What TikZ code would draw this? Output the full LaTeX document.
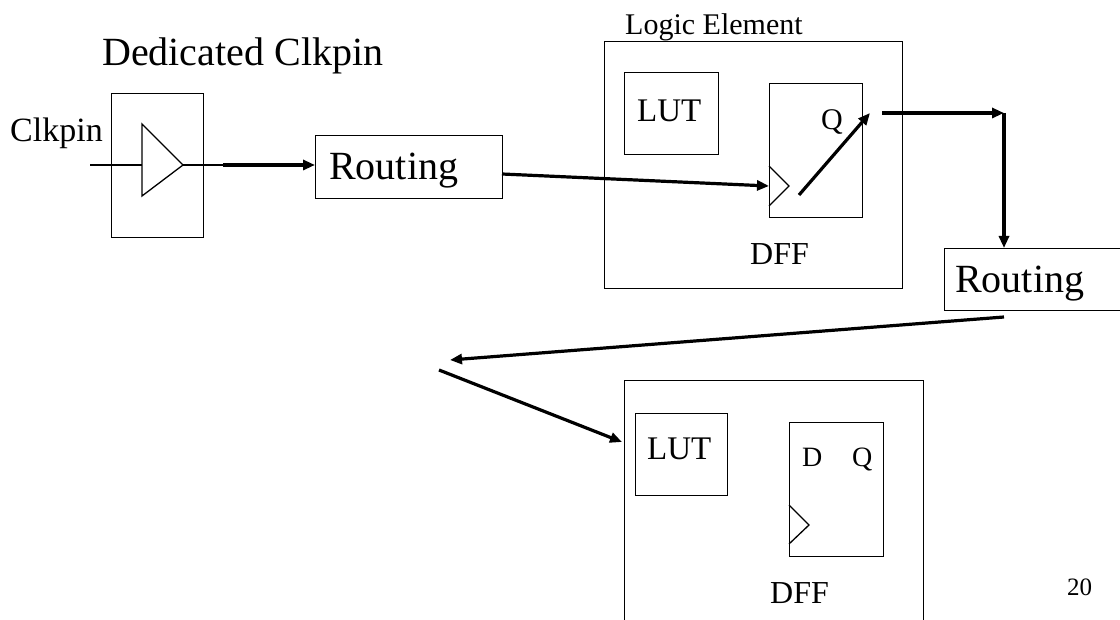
\documentclass[tikz,border=0pt]{standalone}
\usepackage{fontspec}
\setmainfont{Liberation Serif}
\usetikzlibrary{arrows.meta}
\begin{document}
\begin{tikzpicture}[x=1pt,y=-1pt,
  box/.style={draw, line width=1.3pt, rectangle, inner sep=0pt, anchor=north west},
  txt/.style={inner sep=0pt, anchor=base west},
  thin/.style={line width=1.3pt},
  bus/.style={line width=3.2pt, -{Triangle[length=12pt,width=10pt]}},
  fs/.style={font=\fontsize{#1}{#1}\selectfont}]
\useasboundingbox (0,0) rectangle (1120,620);
\clip (0,0) rectangle (1120,620);

% dedicated clock pin with its input buffer
\node[txt, fs=40] (title) at (102,66) {Dedicated Clkpin};
\node[txt, fs=34] (pinlbl) at (10,142) {Clkpin};
\node[box, minimum width=92pt, minimum height=144pt] (pinbox) at (111,93) {};
\coordinate (bufL) at (142,165);
\coordinate (bufT) at (183,165);
\coordinate (pinIn) at (90,165);
\coordinate (bufOut) at (223,165);
\draw[thin] (142,124) -- (bufT) -- (142,196) -- cycle;
\draw[thin] (pinIn) -- (bufL);
\draw[thin] (bufT) -- (bufOut);

% first routing block
\node[box, minimum width=187pt, minimum height=63pt] (route1) at (315,135) {};
\node[txt, fs=40] (route1txt) at (329,180) {Routing};
\draw[bus] (bufOut) -- (route1.west |- bufOut);

% logic element driven by the clock
\node[txt, fs=30] (letitle) at (625,35) {Logic Element};
\node[box, minimum width=298pt, minimum height=247pt] (le1) at (604,41) {};
\node[box, minimum width=94pt, minimum height=82pt] (lut1) at (624,72) {};
\node[txt, fs=33] (lut1txt) at (637,122) {LUT};
\node[box, minimum width=93pt, minimum height=134pt] (dff1) at (769,83) {};
\node[txt, fs=30] (q1) at (821,130) {Q};
\node[txt, fs=32] (dff1txt) at (750,265) {DFF};
\coordinate (clk1) at (769,186);
\draw[thin] (769,166) -- (789,186) -- (769,206);
\coordinate (r1out) at (502,174);
\draw[bus] (r1out) -- (clk1);
\coordinate (qa) at (799,195);
\coordinate (qb) at (870,113);
\draw[bus] (qa) -- (qb);

% output to the second routing block
\coordinate (qc) at (882,113);
\coordinate (corner) at (1004,113);
\node[box, minimum width=190pt, minimum height=62pt] (route2) at (944,248) {};
\node[txt, fs=40] (route2txt) at (955,293) {Routing};
\draw[bus] (qc) -- (corner);
\draw[bus] (corner) -- (corner |- route2.north);

% routing back to the next logic element
\coordinate (r2out) at (1004,317);
\coordinate (bendA) at (450,360);
\coordinate (bendB) at (439,370);
\node[box, minimum width=299pt, minimum height=260pt] (le2) at (624,380) {};
\draw[bus] (r2out) -- (bendA);
\draw[bus] (bendB) -- (622,442);

\node[box, minimum width=92pt, minimum height=82pt] (lut2) at (635,413) {};
\node[txt, fs=33] (lut2txt) at (647,460) {LUT};
\node[box, minimum width=94pt, minimum height=134pt] (dff2) at (789,422) {};
\node[txt, fs=28] (d2) at (802,467) {D};
\node[txt, fs=28] (q2) at (852,467) {Q};
\draw[thin] (789,505) -- (809,525) -- (789,544);
\node[txt, fs=32] (dff2txt) at (770,603) {DFF};

% page number
\node[txt, fs=25] (page) at (1067,595) {20};
\end{tikzpicture}
\end{document}
